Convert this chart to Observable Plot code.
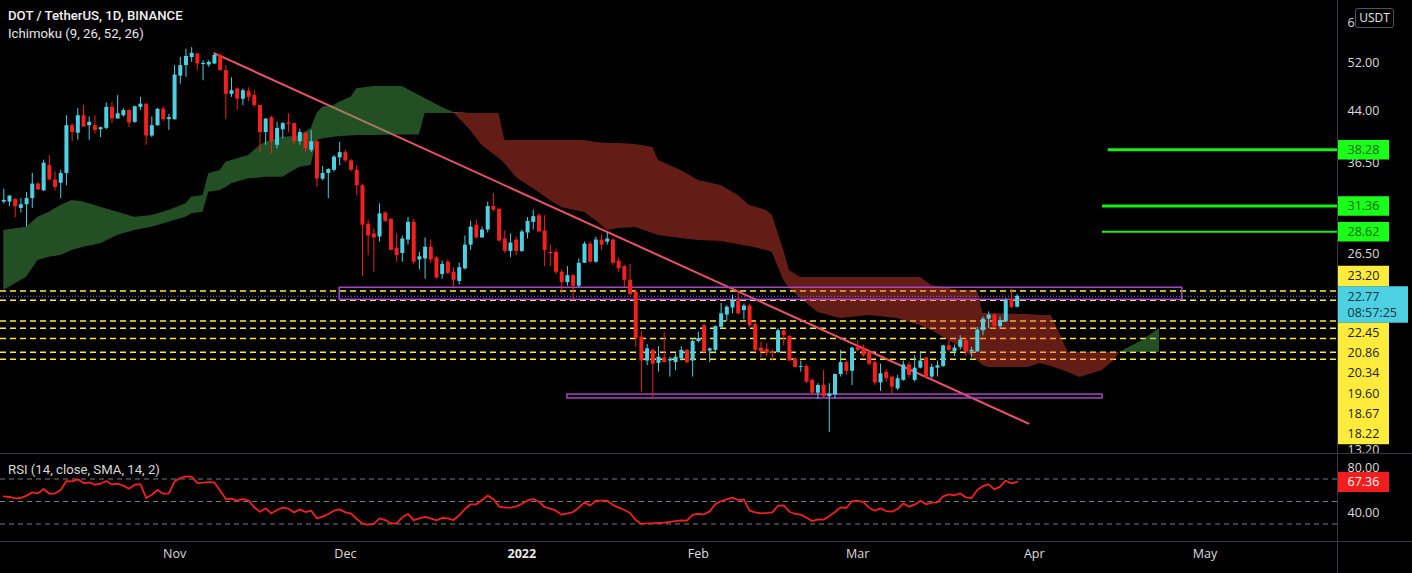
<!DOCTYPE html>
<html>
<head>
<meta charset="utf-8">
<script src="https://cdn.jsdelivr.net/npm/d3@7"></script>
<script src="https://cdn.jsdelivr.net/npm/@observablehq/plot@0.6"></script>
<style>
html,body{margin:0;padding:0;background:#000;}
#chart{position:relative;width:1412px;height:573px;background:#000;overflow:hidden;font-family:"Open Sans",sans-serif;}
#chart svg{position:absolute;left:0;background:transparent;}
.sep{position:absolute;background:#363940;}
.ttl{position:absolute;left:8px;color:#e6e6e6;white-space:nowrap;font-family:Roboto,"Open Sans",sans-serif;font-size:13.2px;line-height:18px;z-index:5;}
#usdt{position:absolute;left:1355px;top:8px;width:37px;height:18px;border:1px solid #50535e;border-radius:3px;background:#000;color:#e6e6e6;font-size:12px;line-height:18px;text-align:center;z-index:5;}
</style>
</head>
<body>
<div id="chart">
  <div class="ttl" style="top:7px;font-weight:500;color:#f0f0f0;">DOT / TetherUS, 1D, BINANCE</div>
  <div class="ttl" style="top:25px;">Ichimoku (9, 26, 52, 26)</div>
  <div class="ttl" style="top:461px;color:#d8d8d8;">RSI (14, close, SMA, 14, 2)</div>
  <div id="usdt">USDT</div>
</div>
<script>
// ---------------- DATA ----------------
const startDay = "2021-10-02";           // first daily candle
const viewDays = [-0.58, 234.27];         // visible span, days after startDay

const open = [31.8,31.8,32.1,31.1,31.5,32.2,33.9,33.1,36.2,34.4, 34.0,35.2,41.7,40.6,43.2,41.7,41.7,41.1,41.3,44.5,
 42.7,43.2,44.0,42.2,44.5,45.0,40.2,41.7,44.2,42.6, 42.6,49.7,51.6,53.1,53.8,51.8,51.7,51.9,53.5,50.7,
 46.6,47.5,45.8,47.1,46.4,44.8,40.7,42.9,38.9,41.1, 42.1,42.0,39.4,40.6,38.2,39.4,34.5,35.2,35.6,37.2,
 37.9,36.8,35.6,33.7,29.4,28.4,28.1,30.6,29.9,27.0, 26.5,27.8,29.6,25.9,26.0,27.1,26.1,24.6,25.7,24.8,
 24.0,25.1,27.3,29.3,28.0,28.8,31.3,31.0,27.9,26.7, 27.8,26.7,28.5,29.6,30.3,28.7,26.6,26.6,24.8,23.9,
 24.5,23.6,25.6,27.4,25.7,27.8,27.6,27.8,25.8,25.3, 24.1,23.1,19.7,18.1,18.8,17.95,18.3,18.1,18.0,18.25,
 18.8,18.1,19.4,20.5,18.75,18.8,20.4,21.3,21.85,22.4, 21.65,22.0,20.6,18.95,18.85,18.7,18.65,20.15,19.75,18.2,
 17.7,17.75,16.9,16.15,16.6,15.95,16.05,17.25,18.0,17.45, 19.0,18.95,18.65,18.0,16.75,17.4,17.1,16.4,16.9,17.85,
 16.9,17.65,18.3,17.1,17.65,17.75,19.1,18.7,19.0,19.45, 18.7,18.7,20.15,21.0,21.3,20.45,20.8,22.5,21.9];
const high = [33.3,32.5,32.2,32.2,32.9,35.2,34.1,36.9,37.5,35.4, 35.6,43.2,42.0,44.3,44.8,43.0,43.2,41.5,45.2,45.3,
 46.4,44.3,44.2,44.7,46.1,45.1,43.0,44.3,44.6,43.4, 51.6,53.1,54.7,55.0,53.9,52.5,52.5,53.9,53.8,51.6,
 49.4,47.7,47.5,47.7,47.2,44.8,42.7,43.1,42.2,42.2, 43.5,42.1,41.2,40.7,41.0,39.6,36.1,35.8,37.5,39.3,
 38.2,37.0,36.2,33.9,29.8,28.9,31.6,30.7,30.0,28.4, 28.2,30.1,29.9,26.6,28.0,27.8,26.2,25.8,25.9,25.2,
 25.6,28.2,29.7,29.8,29.1,31.8,32.8,31.1,28.7,28.4, 28.1,28.8,30.1,30.9,30.5,30.3,27.3,26.9,25.0,25.3,
 24.6,26.0,27.6,27.6,28.1,28.3,28.5,27.9,26.1,25.4, 25.5,23.3,20.1,19.2,18.9,19.05,20.05,18.35,18.55,19.05,
 18.85,19.6,20.05,20.65,18.95,20.5,22.2,22.05,22.85,23.1, 22.15,22.15,20.8,19.35,19.25,18.85,20.3,20.2,19.8,18.3,
 18.1,17.85,17.0,16.7,17.5,16.7,17.3,18.8,18.1,19.0, 19.45,19.15,18.8,18.1,17.9,17.55,17.1,17.2,18.1,18.0,
 18.45,18.7,18.35,17.9,18.1,19.15,19.45,19.15,19.8,19.55, 19.0,20.4,21.15,21.55,21.4,21.15,22.55,23.35,22.9];
const low = [31.6,31.3,30.1,30.6,29.1,31.1,33.1,33.0,34.3,33.1, 32.2,33.7,39.4,39.6,41.5,39.6,40.5,40.0,41.1,42.0,
 42.7,43.0,41.4,42.0,44.0,38.9,40.0,41.6,42.3,41.0, 42.5,48.3,49.5,52.2,50.7,48.9,51.3,51.8,50.6,42.6,
 46.1,44.0,44.8,45.4,44.5,37.9,38.9,37.7,38.4,39.8, 40.7,39.0,38.9,37.9,37.9,33.5,34.3,32.2,35.4,36.2,
 36.6,35.4,32.5,24.4,26.3,24.8,27.6,29.6,26.8,25.7, 25.7,27.3,25.5,25.0,24.2,25.6,24.2,24.2,24.6,23.5,
 23.7,25.0,26.8,27.9,28.0,28.5,30.7,27.6,26.5,26.1, 26.3,26.6,27.9,28.8,28.6,25.3,25.3,24.6,23.0,23.6,
 22.4,23.5,25.6,25.6,25.6,26.8,27.3,25.4,24.8,23.5, 22.8,19.0,16.2,17.8,15.9,17.4,18.0,17.1,17.5,18.1,
 17.9,17.1,19.3,18.55,18.0,18.7,20.3,20.8,21.4,21.3, 20.95,20.4,18.7,18.3,18.4,18.1,18.6,19.1,18.1,17.65,
 17.4,16.7,16.1,15.8,15.9,14.05,15.8,17.1,17.2,16.6, 18.7,18.35,17.8,16.6,16.25,16.8,16.05,16.3,16.85,17.05,
 16.8,17.6,17.0,17.0,17.1,17.7,18.7,18.4,18.8,18.4, 18.3,18.65,19.8,20.3,20.3,20.25,20.75,21.8,21.85];
const close = [32.0,32.5,31.3,31.5,32.2,33.9,33.2,36.5,34.4,33.5, 35.2,41.7,40.7,43.2,41.5,42.2,41.0,41.4,44.5,42.7,
 43.5,44.0,42.1,44.6,45.0,40.2,41.7,44.2,42.6,42.9, 49.9,51.6,53.3,53.9,51.9,52.0,52.2,53.5,50.7,46.6,
 47.2,45.8,47.2,46.1,44.8,40.7,42.7,39.4,41.3,42.0, 41.9,39.4,40.7,38.4,39.4,34.5,35.2,35.7,37.3,37.9,
 36.8,35.6,33.7,29.3,28.2,28.0,30.5,29.7,26.8,26.3, 27.9,29.6,25.7,26.2,27.1,25.9,24.3,25.5,24.7,24.1,
 25.2,27.3,29.1,28.0,28.8,31.3,30.9,27.7,26.7,27.5, 26.7,28.6,29.7,30.2,28.6,26.8,26.5,24.8,23.9,24.5,
 23.6,25.6,27.4,25.7,27.8,27.3,27.9,25.6,25.1,24.1, 22.9,19.6,18.1,18.9,17.9,18.35,18.0,18.2,18.35,18.8,
 18.0,19.4,19.6,18.7,18.9,20.45,21.4,21.9,22.4,21.4, 22.0,20.5,18.8,18.7,18.6,18.6,20.15,19.8,18.1,17.7,
 17.75,16.8,16.15,16.6,15.95,16.1,17.25,18.0,17.45,18.95, 18.8,18.45,17.9,16.75,17.3,17.0,16.5,17.0,17.85,17.2,
 17.65,18.1,17.1,17.7,17.8,19.1,18.8,18.95,19.5,18.7, 18.8,20.2,21.0,21.3,20.45,20.9,22.45,21.9,22.77];
const rsi = [54.6,54.0,52.8,53.1,55.2,58.1,57.2,61.1,56.9,57.2, 60.2,68.2,67.9,69.7,66.4,67.0,64.9,65.8,68.2,65.2,
 65.8,64.1,61.4,64.9,65.5,53.1,56.0,60.2,56.9,57.2, 67.9,70.9,72.4,72.1,66.4,66.7,67.3,67.0,59.6,52.2,
 52.5,50.7,52.2,50.7,44.8,40.9,43.9,39.5,42.4,44.5, 43.6,40.3,43.0,40.6,41.8,35.0,36.5,38.9,41.8,43.0,
 40.3,39.2,34.4,30.3,29.4,30.0,35.0,33.5,30.6,30.6, 35.9,38.9,33.5,35.0,36.2,35.0,33.2,35.3,35.0,33.5,
 37.7,43.3,47.5,47.5,51.3,55.2,52.2,45.4,44.5,44.5, 45.7,47.8,51.0,52.2,49.8,45.1,43.6,41.8,38.3,39.5,
 40.6,44.5,49.2,46.3,50.7,50.7,50.7,46.9,44.5,42.4, 39.8,33.5,30.0,30.6,30.6,30.9,31.2,31.8,32.6,33.2,
 32.9,38.3,38.9,38.6,41.2,47.8,50.4,51.9,53.4,51.3, 51.9,41.8,40.3,39.5,39.8,40.3,46.3,46.6,40.9,38.9,
 38.3,35.6,32.6,34.1,33.8,37.1,40.6,44.8,44.2,50.4, 50.7,49.5,44.5,41.8,43.9,41.5,40.9,43.3,48.3,45.4,
 47.2,50.7,47.5,48.9,49.2,54.6,56.4,55.5,57.2,53.7, 53.1,60.2,63.7,65.2,60.8,63.2,68.5,66.1,67.36];

// Ichimoku cloud, read at these days after startDay (leading spans shifted 26 bars ahead)
const cloudDayOffset = [0,4,6,8,10,12,14,17,20,23,26,29,32,33,35,36,38,39,40,43,45,46,49,51,52,54,55,56,58,59,
 61,62,65,70,73,74,77,79,82,84,87,88,90,94,96,98,102,104,106,108,111,114,115,119,122,126,129,131,134,135,
 137,138,140,143,147,152,157,161,163,166,168,170,171,172,173,180,182,184,187,189,193,195,196,200,203];
const spanA = [28.75,29.09,30.14,30.68,31.42,31.98,31.81,31.23,30.68,30.14,30.32,30.87,31.61,32.35,32.55,35.15,35.57,36.63,36.85,37.51,
 38.87,39.32,40.03,40.13,40.27,41.28,43.49,44.52,44.79,45.32,46.13,47.52,47.91,47.91,46.41,45.92,44.48,43.69,40.99,38.87,
 37.12,36.46,34.70,32.90,31.98,31.20,30.65,29.79,28.75,28.96,29.06,28.45,28.25,27.95,27.75,27.65,27.36,27.17,26.78,26.59,
 24.08,23.41,22.59,21.50,21.04,21.27,21.04,20.53,20.17,19.47,18.99,18.39,18.13,17.81,17.69,17.69,17.94,17.75,17.38,17.07,
 17.50,18.13,18.65,19.47,20.31];
const spanB = [23.24,24.36,25.85,26.16,26.31,26.78,27.10,27.43,28.25,28.75,29.09,29.61,30.14,30.51,30.68,32.93,33.13,33.49,33.93,34.54,
 34.63,34.74,34.74,35.57,35.99,36.21,39.56,39.77,40.03,40.13,40.20,40.27,40.27,40.34,40.34,43.54,43.54,43.54,43.54,43.54,
 43.54,39.56,39.56,39.56,39.56,39.56,39.56,39.28,39.14,39.14,39.00,38.59,36.85,35.57,34.33,33.73,32.55,31.42,30.87,30.32,
 26.78,24.95,24.34,24.34,24.34,24.34,24.34,24.34,23.66,23.41,23.24,23.24,23.24,21.42,21.42,21.35,21.27,21.27,18.65,18.65,
 18.65,18.65,18.65,18.65,18.65];

const levels = [23.20, 22.45, 20.86, 20.34, 19.60, 18.67, 18.22];   // yellow dashed levels
const targets = [38.28, 31.36, 28.62];                              // green targets
const targetFrom = ["2022-04-14", "2022-04-13", "2022-04-13"];
const zoneFrom = ["2021-11-30", "2022-01-09"];
const zoneTo = ["2022-04-27", "2022-04-13"];
const zoneTop = [23.47, 16.07];
const zoneBottom = [22.49, 15.85];
const trendDates = ["2021-11-08", "2022-03-31"];
const trendPrices = [53.9, 14.5];
const lastPrice = 22.77;
const countdown = "08:57:25";
const lastRsi = 67.36;
const priceTicks = [60, 52, 44, 36.5, 26.5, 13.2];
const rsiTicks = [80, 40];
const rsiLevels = [70, 50, 30];
const xTicks = ["2021-11-01", "2021-12-01", "2022-01-01", "2022-02-01", "2022-03-01", "2022-04-01", "2022-05-01"];
const xTickLabels = ["Nov", "Dec", "2022", "Feb", "Mar", "Apr", "May"];

// ---------------- DRAW ----------------
const DAY = 864e5;
const t0 = Date.parse(startDay);
const dayDate = i => new Date(t0 + i * DAY);
const W = 1412, axisW = 75, H1 = 453, H2 = 120;
const plotRight = W - axisW;
const UP = "#4dd0e1", DOWN = "#f2201f", YEL = "#ffeb3b", GRN = "#17f017", PURP = "#a845c2";
const xDomain = viewDays.map(dayDate);
const priceDomain = [13.04, 65.0];

const candles = open.map((o, i) => ({date: dayDate(i), open: o, high: high[i], low: low[i], close: close[i],
  col: close[i] >= o ? UP : DOWN}));
const rsiRows = rsi.map((v, i) => ({date: dayDate(i), v}));
const cloud = cloudDayOffset.map((d, i) => ({date: dayDate(d), a: spanA[i], b: spanB[i], top: Math.max(spanA[i], spanB[i])}));
const zones = zoneFrom.map((f, i) => ({x1: new Date(f), x2: new Date(zoneTo[i]), y1: zoneBottom[i], y2: zoneTop[i]}));
const trend = trendDates.map((d, i) => ({date: new Date(d), p: trendPrices[i]}));
const targetRows = targets.map((v, i) => ({v, from: new Date(targetFrom[i]), to: xDomain[1]}));
const targetWidth = [3, 3, 2];
const fmt = v => v.toFixed(2);

// label stacking on the price scale (TradingView style)
const yS = Plot.scale({y: {type: "log", domain: priceDomain, range: [H1, 0]}});
const lastPx = yS.apply(lastPrice);
const boxTop = lastPx - 10, boxBot = lastPx + 26.5, rowH = 20.2;
const levelLabels = [];
let edge = boxTop;
for (const v of levels.filter(v => v > lastPrice).sort((a, b) => a - b)) {
  const c = Math.min(yS.apply(v), edge - rowH / 2); levelLabels.push({v, y: yS.invert(c)}); edge = c - rowH / 2;
}
edge = boxBot;
for (const v of levels.filter(v => v <= lastPrice).sort((a, b) => b - a)) {
  const c = Math.max(yS.apply(v), edge + rowH / 2); levelLabels.push({v, y: yS.invert(c)}); edge = c + rowH / 2;
}
const curBox = [{y: yS.invert((boxTop + boxBot) / 2)}];
const curTexts = [{y: yS.invert(lastPx + 1), t: fmt(lastPrice)}, {y: yS.invert(lastPx + 17), t: countdown}];

const txt = {frameAnchor: "right", dx: 10, textAnchor: "start", fontSize: 12.5};

const pricePlot = Plot.plot({
  width: W, height: H1, marginLeft: 0, marginRight: axisW, marginTop: 0, marginBottom: 0,
  style: {background: "transparent", fontFamily: "Open Sans, sans-serif"},
  x: {type: "utc", domain: xDomain, axis: null},
  y: {type: "log", domain: priceDomain, axis: null},
  color: {type: "identity"},
  marks: [
    Plot.ruleY(levels, {stroke: YEL, strokeWidth: 1.5, strokeDasharray: "6,4"}),
    Plot.line(trend, {x: "date", y: "p", stroke: "#ef4f6a", strokeWidth: 2}),
    Plot.areaY(cloud, {x: "date", y1: "b", y2: "top", fill: "#4caf50", fillOpacity: 0.45}),
    Plot.areaY(cloud, {x: "date", y1: "a", y2: "top", fill: "#f44336", fillOpacity: 0.41}),
    Plot.rect(zones, {x1: "x1", x2: "x2", y1: "y1", y2: "y2", fill: "none", stroke: PURP, strokeWidth: 1.5}),
    Plot.ruleY([lastPrice], {stroke: "#6f78ff", strokeWidth: 1, strokeDasharray: "1,2"}),
    Plot.ruleX(candles, {x: "date", y1: "low", y2: "high", stroke: "col", strokeWidth: 1}),
    Plot.ruleX(candles, {x: "date", y1: "open", y2: "close", stroke: "col", strokeWidth: 4}),
    Plot.ruleY(targetRows, {y: "v", x1: "from", x2: "to", stroke: GRN, strokeWidth: (d, i) => targetWidth[i]}),
    Plot.text(priceTicks, {...txt, y: d => d, text: fmt, fill: "#dcdcdc"}),
    Plot.ruleY(targets, {stroke: "#1aff1a", strokeWidth: 19.5, insetLeft: plotRight, insetRight: -52}),
    Plot.text(targets, {...txt, y: d => d, text: fmt, fill: "#0a6a0a"}),
    Plot.ruleY(levelLabels, {y: "y", stroke: YEL, strokeWidth: rowH + 0.6, insetLeft: plotRight, insetRight: -52}),
    Plot.text(levelLabels, {...txt, y: "y", text: d => fmt(d.v), fill: "#1c1c1c"}),
    Plot.ruleY(curBox, {y: "y", stroke: UP, strokeWidth: boxBot - boxTop, insetLeft: plotRight, insetRight: -71}),
    Plot.text(curTexts, {...txt, y: "y", text: "t", fill: "#0f3540"})
  ]
});
pricePlot.style.top = "0px";

const xRows = xTicks.map((d, i) => ({date: new Date(d), label: xTickLabels[i], year: /^\d{4}$/.test(xTickLabels[i])}));
const rsiPlot = Plot.plot({
  width: W, height: H2, marginLeft: 0, marginRight: axisW, marginTop: 0, marginBottom: 32,
  style: {background: "transparent", fontFamily: "Open Sans, sans-serif"},
  x: {type: "utc", domain: xDomain, axis: null},
  y: {domain: [14.4, 92.7], axis: null},
  marks: [
    Plot.ruleY(rsiLevels, {stroke: "#787b86", strokeWidth: 1, strokeDasharray: "5,4"}),
    Plot.line(rsiRows, {x: "date", y: "v", stroke: DOWN, strokeWidth: 1.8}),
    Plot.text(rsiTicks, {...txt, y: d => d, text: fmt, fill: "#dcdcdc"}),
    Plot.ruleY([lastRsi], {stroke: "#f21d1d", strokeWidth: 20, insetLeft: plotRight, insetRight: -52}),
    Plot.text([lastRsi], {...txt, y: d => d, text: fmt, fill: "#ffffff"}),
    Plot.text(xRows, {filter: d => !d.year, x: "date", text: "label", frameAnchor: "bottom", dy: 16, fill: "#dcdcdc", fontSize: 12.5}),
    Plot.text(xRows, {filter: d => d.year, x: "date", text: "label", frameAnchor: "bottom", dy: 16, fill: "#e8e8e8", fontSize: 12.5, fontWeight: "bold"})
  ]
});
rsiPlot.style.top = H1 + "px";

const chart = document.getElementById("chart");
chart.appendChild(pricePlot);
chart.appendChild(rsiPlot);
for (const [l, t, w, h] of [[0, 453, W, 1], [0, 541, W, 1], [plotRight, 0, 1, 573]]) {
  const s = document.createElement("div");
  s.className = "sep";
  Object.assign(s.style, {left: l + "px", top: t + "px", width: w + "px", height: h + "px"});
  chart.appendChild(s);
}
</script>
</body>
</html>
